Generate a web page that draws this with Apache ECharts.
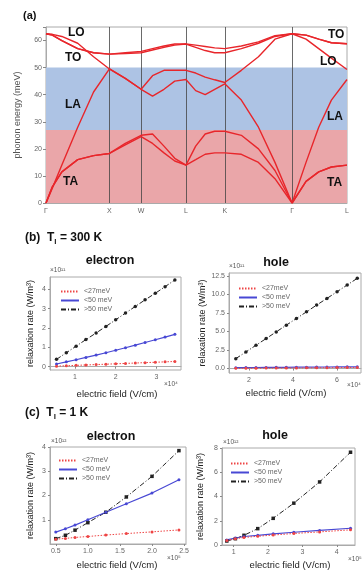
<!DOCTYPE html>
<html>
<head>
<meta charset="utf-8">
<script src="https://cdn.jsdelivr.net/npm/echarts@6/dist/echarts.min.js"></script>
<style>
  html, body { margin: 0; padding: 0; background: #fff; }
  #chart { width: 363px; height: 574px; }
</style>
</head>
<body>
<div id="chart"></div>
<script>
// (a) phonon dispersion along the path
const kTicks = [0, 1, 1.5, 2.207, 2.819, 3.88, 4.746];
const kTickNames = ['Γ', 'X', 'W', 'L', 'K', 'Γ', 'L'];
const kGrid = [0, 0.1, 0.25, 0.5, 0.75, 1, 1.25, 1.5, 1.68, 1.86, 2.03, 2.207, 2.36, 2.51, 2.66, 2.819, 3.08, 3.35, 3.61, 3.88, 4.1, 4.3, 4.5, 4.746];
const bandTA1 = [0, 6, 11.5, 16, 17.5, 18.3, 21.5, 24.5, 22, 18.5, 15.5, 14, 16, 18, 18.5, 18.5, 18, 15, 9, 0, 8, 11.5, 13.3, 14];
const bandTA2 = [0, 6, 11.5, 16, 17.5, 18.3, 22, 25, 25.5, 21, 16.5, 14, 21, 25.5, 26.5, 26.5, 25, 20, 12, 0, 8, 11.5, 13.3, 14];
const bandLA = [0, 5.5, 14, 28, 41, 49.5, 46, 42, 39.5, 42, 45, 45.6, 41.5, 40, 42, 44, 38, 28, 15, 0, 15, 28, 38, 45.6];
const bandLO = [62.5, 62.3, 61.5, 59, 54, 49.5, 46, 42, 47, 49, 49, 49, 48, 46.5, 45.5, 44.5, 49, 54, 60.5, 62.5, 60.5, 57, 53.5, 49.3];
const bandTO1 = [62.5, 62, 60, 57, 55.5, 55, 55.2, 55.5, 56.5, 57.5, 58.3, 58.7, 57.5, 56.3, 55.5, 55.5, 57, 59, 61.5, 62.5, 62, 60.5, 59.2, 58.8];
const bandTO2 = [62.5, 62, 60, 57, 55.5, 55, 55.5, 56, 57, 58, 58.7, 58.7, 58.3, 57.8, 57.3, 57, 58, 59.5, 61.8, 62.5, 62, 60.5, 59.2, 58.8];
const redBand = [0, 27];
const blueBand = [27, 50];

// (b) T = 300 K
const bElecField = [0.55, 0.79, 1.03, 1.27, 1.52, 1.76, 2.0, 2.24, 2.48, 2.72, 2.97, 3.21, 3.45];
const bElecLow = [0.03, 0.05, 0.07, 0.09, 0.11, 0.13, 0.15, 0.17, 0.19, 0.21, 0.23, 0.25, 0.27];
const bElecMid = [0.14, 0.25, 0.36, 0.48, 0.6, 0.72, 0.85, 0.98, 1.11, 1.25, 1.39, 1.53, 1.67];
const bElecHigh = [0.38, 0.72, 1.06, 1.4, 1.74, 2.08, 2.42, 2.77, 3.11, 3.45, 3.79, 4.13, 4.48];
const bHoleField = [1.4, 1.86, 2.32, 2.78, 3.24, 3.7, 4.16, 4.62, 5.08, 5.55, 6.01, 6.47, 6.93];
const bHoleLow = [0.03, 0.04, 0.05, 0.06, 0.07, 0.08, 0.09, 0.1, 0.11, 0.12, 0.13, 0.14, 0.15];
const bHoleMid = [0.12, 0.13, 0.14, 0.15, 0.16, 0.17, 0.18, 0.19, 0.2, 0.21, 0.22, 0.23, 0.24];
const bHoleHigh = [1.34, 2.24, 3.15, 4.05, 4.95, 5.86, 6.76, 7.66, 8.57, 9.47, 10.37, 11.28, 12.18];

// (c) T = 1 K
const cElecField = [0.5, 0.65, 0.8, 1.0, 1.28, 1.6, 2.0, 2.42];
const cElecLow = [0.2, 0.23, 0.27, 0.31, 0.37, 0.43, 0.5, 0.58];
const cElecMid = [0.49, 0.63, 0.78, 1.0, 1.31, 1.66, 2.1, 2.65];
const cElecHigh = [0.22, 0.36, 0.57, 0.88, 1.31, 1.94, 2.79, 3.85];
const cHoleField = [0.8, 1.05, 1.3, 1.7, 2.15, 2.75, 3.5, 4.4];
const cHoleLow = [0.38, 0.52, 0.62, 0.72, 0.82, 0.95, 1.08, 1.25];
const cHoleMid = [0.42, 0.58, 0.7, 0.8, 0.92, 1.05, 1.2, 1.38];
const cHoleHigh = [0.33, 0.52, 0.8, 1.35, 2.2, 3.45, 5.2, 7.65];

const seriesNames = ['<27meV', '<50 meV', '>50 meV'];
const bElecYTicks = [0, 1, 2, 3, 4];
const bElecXTicks = [1, 2, 3];
const bHoleYTicks = [0, 2.5, 5, 7.5, 10, 12.5];
const bHoleXTicks = [2, 4, 6];
const cElecYTicks = [1, 2, 3, 4];
const cElecXTicks = [0.5, 1, 1.5, 2, 2.5];
const cHoleYTicks = [0, 2, 4, 6, 8];
const cHoleXTicks = [1, 2, 3, 4];

const FONT = 'Liberation Sans, Arial, sans-serif';
const RED = '#e8262b';
const LRED = '#ee4444';
const BLUE = '#4848d4';
const BLACK = '#222';

const chart = echarts.init(document.getElementById('chart'));

const grids = [
  { left: 46, top: 27, width: 301, height: 176 },
  { left: 50, top: 277, width: 131, height: 93 },
  { left: 229, top: 273, width: 132, height: 100 },
  { left: 50, top: 447, width: 136, height: 97 },
  { left: 222, top: 448, width: 133, height: 97 },
].map(g => ({ ...g, show: true, borderColor: '#aaa', borderWidth: 1, backgroundColor: 'transparent' }));

const tickLabel = { color: '#666', fontSize: 7, fontFamily: FONT };
const axisLine = { lineStyle: { color: '#aaa' } };

function plotAxes(gi, xr, xt, xdec, yr, yt, ydec, yGap) {
  return {
    x: {
      gridIndex: gi, type: 'value', min: xr[0], max: xr[1],
      axisLine, splitLine: { show: false },
      axisTick: { customValues: xt, length: 2, lineStyle: { color: '#888' } },
      axisLabel: { ...tickLabel, margin: 4, customValues: xt, formatter: v => v.toFixed(xdec) },
    },
    y: {
      gridIndex: gi, type: 'value', min: yr[0], max: yr[1],
      axisLine, splitLine: { show: false },
      axisTick: { customValues: yt, length: 2, lineStyle: { color: '#888' } },
      axisLabel: { ...tickLabel, margin: 4, customValues: yt, formatter: v => v.toFixed(ydec) },
      name: 'relaxation rate (W/m³)', nameLocation: 'middle', nameGap: yGap, nameRotate: 90,
      nameTextStyle: { color: '#222', fontSize: 9, fontFamily: FONT },
    },
  };
}

const axB1 = plotAxes(1, [0.39, 3.6], bElecXTicks, 0, [-0.17, 4.63], bElecYTicks, 0, 15);
const axB2 = plotAxes(2, [1.09, 7.1], bHoleXTicks, 0, [-0.6, 12.9], bHoleYTicks, 1, 22);
const axC1 = plotAxes(3, [0.41, 2.53], cElecXTicks, 1, [0, 4], cElecYTicks, 0, 15);
const axC2 = plotAxes(4, [0.66, 4.53], cHoleXTicks, 0, [0, 8], cHoleYTicks, 0, 17);

function nearestTick(v) {
  let best = 0;
  kTicks.forEach((t, i) => { if (Math.abs(t - v) < Math.abs(kTicks[best] - v)) best = i; });
  return kTickNames[best];
}

const xAxes = [
  {
    gridIndex: 0, type: 'value', min: 0, max: 4.746,
    axisLine, axisTick: { show: false }, splitLine: { show: false },
    axisLabel: { ...tickLabel, margin: 5, customValues: kTicks, formatter: v => nearestTick(v) },
  },
  axB1.x, axB2.x, axC1.x, axC2.x,
];
const yAxes = [
  {
    gridIndex: 0, type: 'value', min: 0, max: 65, interval: 10,
    axisLine, splitLine: { show: false },
    axisTick: { length: 3, lineStyle: { color: '#888' } },
    axisLabel: { ...tickLabel, margin: 4, formatter: v => (v % 10 === 0 ? v : '') },
    name: 'phonon energy (meV)', nameLocation: 'middle', nameGap: 24, nameRotate: 90,
    nameTextStyle: { color: '#555', fontSize: 9, fontFamily: FONT },
  },
  axB1.y, axB2.y, axC1.y, axC2.y,
];

const bands = [bandTA1, bandTA2, bandLA, bandLO, bandTO1, bandTO2];
const series = bands.map((b) => ({
  type: 'line', xAxisIndex: 0, yAxisIndex: 0, silent: true,
  data: kGrid.map((k, i) => [k, b[i]]),
  showSymbol: false, symbol: 'none', z: 5,
  lineStyle: { color: RED, width: 1.4 },
}));
series[0].markArea = {
  silent: true,
  data: [
    [{ yAxis: redBand[0], itemStyle: { color: '#eaa6a9' } }, { yAxis: redBand[1] }],
    [{ yAxis: blueBand[0], itemStyle: { color: '#adc3e4' } }, { yAxis: blueBand[1] }],
  ],
};
series[1].markLine = {
  silent: true, symbol: 'none', label: { show: false },
  lineStyle: { color: '#444', width: 0.8, type: 'solid' },
  data: kTicks.slice(1, 6).map(k => ({ xAxis: k })),
};

function trio(gi, field, low, mid, high, highSym) {
  const mk = (name, vals, color, type, width, sym, size) => ({
    name, type: 'line', xAxisIndex: gi, yAxisIndex: gi,
    data: field.map((x, i) => [x, vals[i]]),
    symbol: sym, symbolSize: size, showSymbol: true,
    itemStyle: { color },
    lineStyle: { color, type, width },
    z: 5,
  });
  return [
    mk(seriesNames[2], high, BLACK, [5, 2, 1, 2], 1, highSym, 3.5),
    mk(seriesNames[1], mid, BLUE, 'solid', 1.2, 'circle', 3),
    mk(seriesNames[0], low, LRED, [1.5, 1.5], 1, 'circle', 3),
  ];
}
series.push(
  ...trio(1, bElecField, bElecLow, bElecMid, bElecHigh, 'circle'),
  ...trio(2, bHoleField, bHoleLow, bHoleMid, bHoleHigh, 'circle'),
  ...trio(3, cElecField, cElecLow, cElecMid, cElecHigh, 'rect'),
  ...trio(4, cHoleField, cHoleLow, cHoleMid, cHoleHigh, 'rect'),
);

const legendPos = [[55, 283], [233, 280], [53, 452], [225, 455]];
const legend = legendPos.map(([l, t]) => ({
  left: l, top: t, orient: 'vertical', selectedMode: false,
  data: seriesNames, itemWidth: 18, itemHeight: 6, itemGap: 2,
  itemStyle: { opacity: 0 },
  textStyle: { color: '#666', fontSize: 7, fontFamily: FONT },
}));

const txt = (left, top, text, size, weight, color) => ({
  type: 'text', left, top, silent: true, z: 100,
  style: { text, fill: color || '#111', font: `${weight || ''} ${size}px ${FONT}` },
});
const richTitle = (left, top, text) => ({
  type: 'text', left, top, silent: true, z: 100,
  style: {
    text, fill: '#111', font: `bold 12px ${FONT}`,
    rich: {
      m: { fontSize: 12, fontWeight: 'bold', fontFamily: FONT, lineHeight: 15, fill: '#111' },
      s: { fontSize: 8, fontWeight: 'bold', fontFamily: FONT, lineHeight: 8, verticalAlign: 'bottom', fill: '#111' },
    },
  },
});
const centerTxt = (cx, top, text, size, weight, color) => ({
  type: 'text', x: cx, y: top, silent: true, z: 100,
  style: { text, fill: color || '#111', font: `${weight || ''} ${size}px ${FONT}`, align: 'center' },
});

const graphic = [
  txt(23, 10, '(a)', 11, 'bold'),
  txt(68, 27, 'LO', 12, 'bold'),
  txt(65, 52, 'TO', 12, 'bold'),
  txt(65, 99, 'LA', 12, 'bold'),
  txt(63, 176, 'TA', 12, 'bold'),
  txt(328, 29, 'TO', 12, 'bold'),
  txt(320, 56, 'LO', 12, 'bold'),
  txt(327, 111, 'LA', 12, 'bold'),
  txt(327, 177, 'TA', 12, 'bold'),
  richTitle(25, 232, '{m|(b)  T}{s|l}{m| = 300 K}'),
  richTitle(25, 407, '{m|(c)  T}{s|l}{m| = 1 K}'),
  centerTxt(110, 254, 'electron', 12.5, 'bold'),
  centerTxt(276, 256, 'hole', 12.5, 'bold'),
  centerTxt(111, 430, 'electron', 12.5, 'bold'),
  centerTxt(275, 429, 'hole', 12.5, 'bold'),
  centerTxt(117, 389, 'electric field (V/cm)', 9.5, '', '#222'),
  centerTxt(286, 388, 'electric field (V/cm)', 9.5, '', '#222'),
  centerTxt(117, 560, 'electric field (V/cm)', 9.5, '', '#222'),
  centerTxt(290, 560, 'electric field (V/cm)', 9.5, '', '#222'),
  txt(50, 267, '×10¹¹', 6.5, '', '#555'),
  txt(229, 263, '×10¹¹', 6.5, '', '#555'),
  txt(51, 438, '×10¹²', 6.5, '', '#555'),
  txt(223, 439, '×10¹²', 6.5, '', '#555'),
  txt(164, 381, '×10⁴', 6.5, '', '#555'),
  txt(347, 382, '×10⁴', 6.5, '', '#555'),
  txt(167, 555, '×10⁵', 6.5, '', '#555'),
  txt(348, 556, '×10⁵', 6.5, '', '#555'),
];

chart.setOption({
  animation: false,
  textStyle: { fontFamily: FONT },
  grid: grids,
  xAxis: xAxes,
  yAxis: yAxes,
  legend,
  series,
  graphic,
});
</script>
</body>
</html>
